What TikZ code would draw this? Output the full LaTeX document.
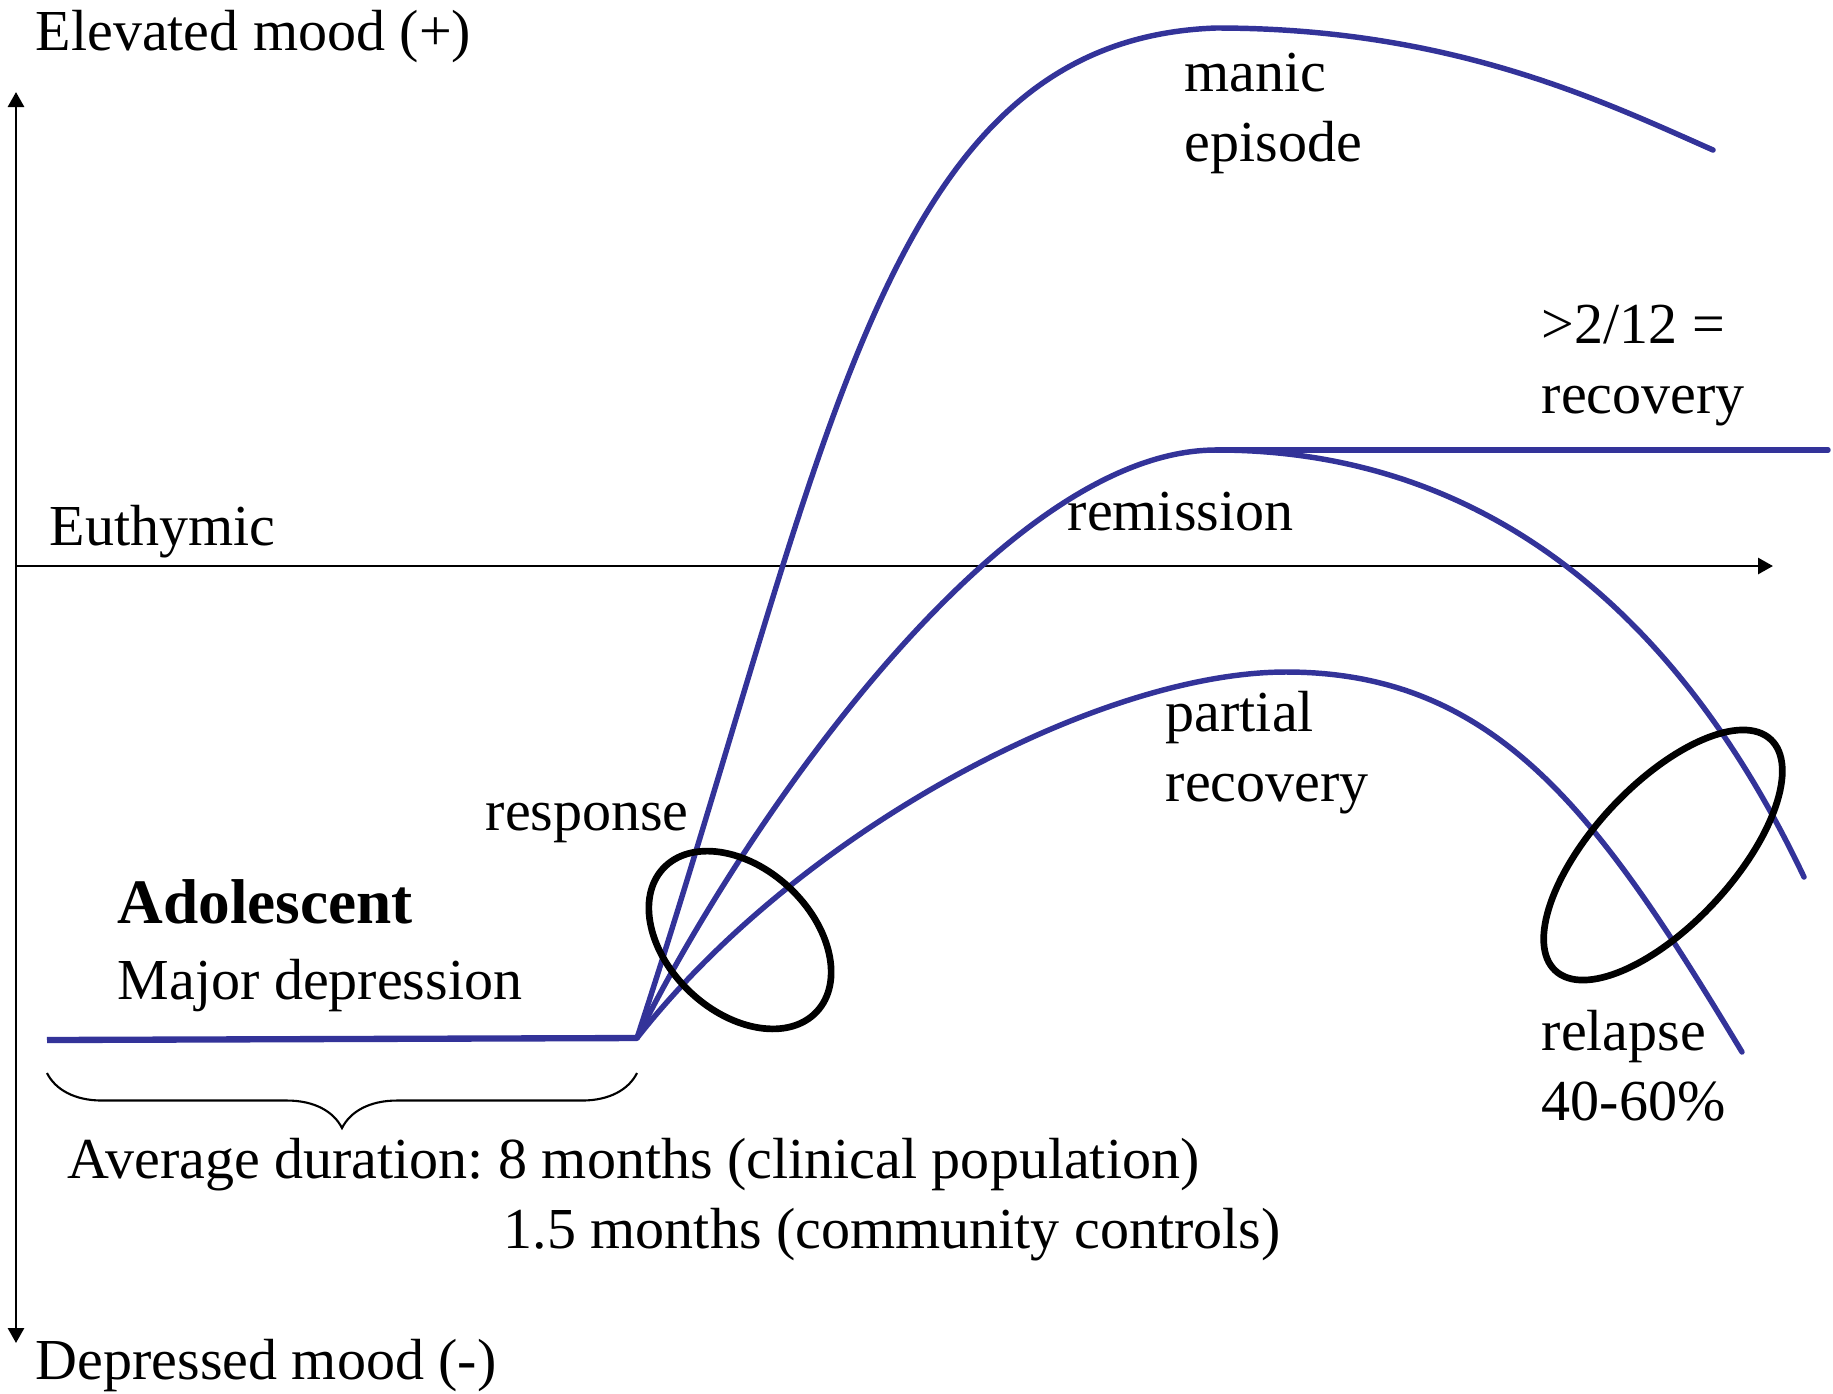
\documentclass[tikz,border=0pt]{standalone}
\usepackage{fontspec}
\setmainfont{Liberation Serif}
\usetikzlibrary{arrows.meta,decorations.pathreplacing}
\definecolor{moodblue}{RGB}{51,51,153}

\begin{document}
\frenchspacing
\begin{tikzpicture}[x=0.01cm, y=-0.01cm,
    lbl/.style={anchor=base west, inner sep=0pt, align=left, font=\fontsize{16.5}{19.9}\selectfont},
    mood/.style={draw=moodblue, line width=1.55pt, line cap=round},
    ring/.style={draw=black, line width=1.9pt},
    axis/.style={draw=black, line width=0.8pt},
    >={Triangle[length=0.15cm, width=0.16cm]}]
      \useasboundingbox (0,0) rectangle (1833,1393);
      % axes
      \coordinate (Top) at (16,92);
      \coordinate (Bot) at (16,1343);
      \coordinate (Orig) at (16,566);
      \coordinate (Right) at (1773,566);
      \draw[axis, <->] (Bot) -- (Top);
      \draw[axis, ->] (Orig) -- (Right);
      %
      \node[lbl] (Elev) at (35,50) {Elevated mood (+)};
      \node[lbl] (Depr) at (35,1379) {Depressed mood (-)};
      \node[lbl] (Euth) at (49,545) {Euthymic};
      % mood curves
      \coordinate (Base) at (47,1040);
      \coordinate (S) at (637,1038);
      \coordinate (ManPk) at (1216,28);
      \coordinate (RemPk) at (1216,450);
      \coordinate (ParPk) at (1286,672);
      \coordinate (RecEnd) at (1828,450);
      \draw[mood, line width=1.8pt, line cap=butt] (Base) -- (S);
      \draw[mood] (S) .. controls (830,450) and (880,40) .. (ManPk)
                      .. controls (1450,28) and (1600,100) .. (1713,150);
      \draw[mood] (S) .. controls (740,830) and (1000,450) .. (RemPk)
                      .. controls (1550,450) and (1720,700) .. (1804,877);
      \draw[mood] (RemPk) -- (RecEnd);
      \draw[mood] (S) .. controls (800,830) and (1100,672) .. (ParPk)
                      .. controls (1500,672) and (1602,820) .. (1742,1052);
      %
      \draw[ring, rotate around={-43:(740,940)}] (740,940) ellipse [x radius=105, y radius=72];
      \draw[ring, rotate around={47:(1663,855)}] (1663,855) ellipse [x radius=158, y radius=70];
      %
      \node[lbl] (Manic) at (1184,161) {manic\\episode};
      \node[lbl] (Recov) at (1541,413) {>2/12 =\\recovery};
      \node[lbl] (Remis) at (1067,530) {remission};
      \node[lbl] (Part) at (1165,801) {partial\\recovery};
      \node[lbl] (Resp) at (485,830) {response};
      \node[lbl, font=\fontsize{18}{21}\selectfont\bfseries] (Adol) at (117,923) {Adolescent};
      \node[lbl] (Major) at (117,999) {Major depression};
      \node[lbl] (Relap) at (1541,1120) {relapse\\40-60\%};
      %
      \draw[line width=0.6pt, decorate, decoration={brace, mirror, amplitude=0.55cm}] (47,1073) -- (637,1073);
      \node[lbl] (Dur1) at (67,1178) {Average duration: 8 months (clinical population)};
      \node[lbl] (Dur2) at (503,1248) {1.5 months (community controls)};
\end{tikzpicture}
\end{document}
